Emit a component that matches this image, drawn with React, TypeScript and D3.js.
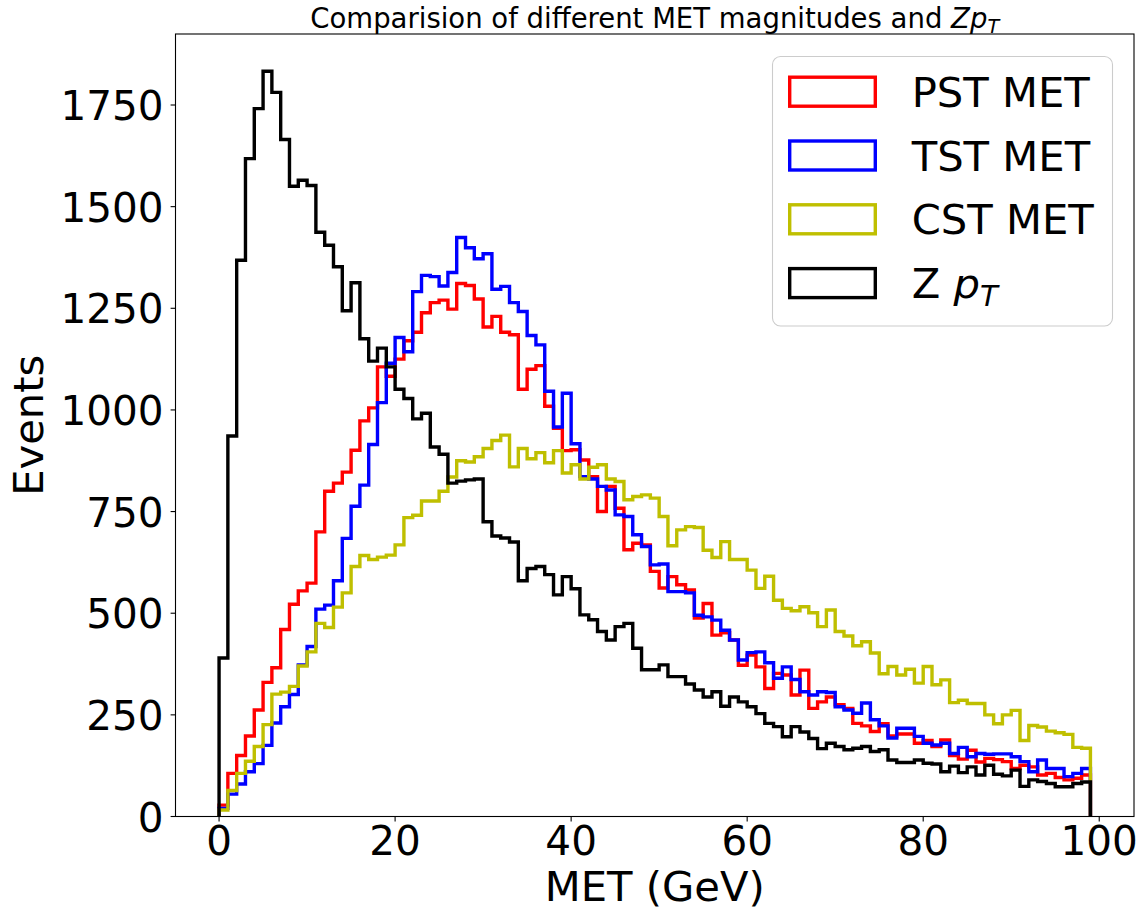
import React from 'react';
import * as d3 from 'd3';

// ---------------- data ----------------
const binStart = 0;
const binWidth = 1;

const pstMet = [
  28, 106, 150, 198, 262, 330, 366, 460, 522, 555,
  574, 700, 800, 820, 847, 901, 973, 1005, 1106, 1083,
  1125, 1170, 1191, 1239, 1264, 1270, 1248, 1311, 1306, 1273,
  1204, 1230, 1191, 1185, 1051, 1100, 1109, 1009, 955, 900,
  902, 877, 836, 750, 812, 758, 656, 672, 668, 603,
  562, 590, 570, 557, 488, 524, 446, 452, 434, 372,
  397, 368, 315, 352, 348, 299, 360, 266, 282, 294,
  275, 266, 229, 223, 209, 228, 198, 203, 203, 180,
  187, 172, 188, 150, 141, 163, 134, 143, 140, 135,
  118, 126, 122, 102, 106, 96, 90, 94, 102,
];

const tstMet = [
  20, 55, 80, 110, 130, 175, 230, 270, 300, 373,
  418, 510, 520, 580, 684, 763, 815, 915, 1018, 1115,
  1178, 1143, 1291, 1331, 1328, 1305, 1338, 1424, 1399, 1372,
  1384, 1297, 1304, 1264, 1242, 1183, 1160, 1046, 958, 1041,
  917, 836, 830, 812, 803, 742, 738, 693, 664, 619,
  621, 553, 553, 550, 495, 491, 483, 458, 434, 385,
  403, 405, 378, 340, 368, 337, 307, 299, 307, 305,
  270, 262, 254, 279, 238, 223, 193, 217, 217, 197,
  180, 176, 180, 155, 170, 147, 155, 153, 154, 154,
  147, 135, 110, 139, 118, 118, 98, 106, 118,
];

const cstMet = [
  16, 64, 106, 136, 172, 226, 301, 306, 320, 370,
  405, 475, 465, 515, 550, 615, 642, 632, 638, 643,
  668, 735, 741, 776, 776, 800, 835, 875, 872, 885,
  905, 925, 938, 860, 905, 880, 895, 870, 900, 845,
  865, 830, 859, 865, 830, 824, 779, 787, 791, 783,
  738, 666, 705, 713, 711, 655, 637, 676, 632, 632,
  606, 561, 591, 532, 512, 506, 516, 501, 467, 508,
  455, 444, 420, 430, 402, 351, 369, 348, 362, 328,
  369, 324, 336, 280, 286, 278, 278, 250, 228, 250,
  261, 187, 224, 220, 210, 206, 202, 170, 168,
];

const zPt = [
  390, 936, 1368, 1618, 1741, 1833, 1781, 1665, 1550, 1565,
  1552, 1437, 1405, 1352, 1244, 1313, 1175, 1120, 1152, 1106,
  1051, 1028, 978, 992, 909, 891, 820, 825, 828, 830,
  725, 690, 685, 675, 580, 610, 615, 595, 545, 590,
  560, 496, 484, 455, 434, 467, 475, 414, 361, 361,
  373, 344, 344, 326, 311, 294, 307, 271, 294, 282,
  270, 253, 229, 221, 196, 221, 208, 192, 167, 180,
  172, 164, 168, 172, 160, 164, 139, 133, 133, 139,
  131, 129, 110, 124, 108, 122, 102, 126, 104, 100,
  114, 74, 90, 86, 81, 73, 73, 81, 85,
];

const seriesNames = ['PST MET', 'TST MET', 'CST MET', 'Z'];
const seriesColors = ['#ff0000', '#0000ff', '#bfbf00', '#000000'];
const seriesValues = [pstMet, tstMet, cstMet, zPt];

const xTicks = [0, 20, 40, 60, 80, 100];
const yTicks = [0, 250, 500, 750, 1000, 1250, 1500, 1750];

// ---------------- layout ----------------
const W = 1145;
const H = 911;
const AX = { left: 175.5, right: 1134, top: 34, bottom: 816.5 };
const FONT = 'DejaVu Sans, sans-serif';
const TICK_FS = 40.5;
const LABEL_FS = 41.7;
const TITLE_FS = 27.5;
const LW = 3.4;

export default function App() {
  const nBins = pstMet.length;
  const xMin = binStart;
  const xMax = binStart + nBins * binWidth;
  const xPad = (xMax - xMin) * 0.05;
  const x = d3.scaleLinear().domain([xMin - xPad, xMax + xPad]).range([AX.left, AX.right]);
  const allMax = d3.max(seriesValues.map((s) => d3.max(s) as number)) as number;
  const y = d3.scaleLinear().domain([0, allMax * 1.05]).range([AX.bottom, AX.top]);

  const line = d3
    .line<[number, number]>()
    .x((d) => x(d[0]))
    .y((d) => y(d[1]));

  const stepPoints = (vals: number[]): [number, number][] => {
    const pts: [number, number][] = [[binStart, 0]];
    vals.forEach((v, i) => {
      const e0 = binStart + i * binWidth;
      pts.push([e0, v]);
      pts.push([e0 + binWidth, v]);
    });
    pts.push([binStart + vals.length * binWidth, 0]);
    return pts;
  };

  // legend geometry
  const lg = { x: 772.5, y: 56.5, w: 340, h: 269.5 };
  const rowBase0 = 106.7;
  const rowStep = 63.8;

  return (
    <svg
      width={W}
      height={H}
      style={{ position: 'absolute', left: 0, top: 0, display: 'block', background: '#fff' }}
      fontFamily={FONT}
    >
      <rect x={0} y={0} width={W} height={H} fill="#ffffff" />

      <defs>
        <clipPath id="axclip">
          <rect x={AX.left} y={AX.top} width={AX.right - AX.left} height={AX.bottom - AX.top} />
        </clipPath>
      </defs>

      {/* histograms */}
      <g clipPath="url(#axclip)">
        {seriesValues.map((vals, i) => (
          <path
            key={seriesNames[i]}
            d={line(stepPoints(vals)) || ''}
            fill="none"
            stroke={seriesColors[i]}
            strokeWidth={LW}
            strokeLinejoin="miter"
          />
        ))}
      </g>

      {/* spines */}
      <rect
        x={AX.left}
        y={AX.top}
        width={AX.right - AX.left}
        height={AX.bottom - AX.top}
        fill="none"
        stroke="#000"
        strokeWidth={1.1}
      />

      {/* x ticks */}
      {xTicks.map((t) => (
        <g key={'x' + t}>
          <line x1={x(t)} x2={x(t)} y1={AX.bottom} y2={AX.bottom + 4.9} stroke="#000" strokeWidth={1.1} />
          <text x={x(t)} y={854.5} textAnchor="middle" fontSize={TICK_FS} fill="#000">
            {t}
          </text>
        </g>
      ))}

      {/* y ticks */}
      {yTicks.map((t) => (
        <g key={'y' + t}>
          <line x1={AX.left - 4.9} x2={AX.left} y1={y(t)} y2={y(t)} stroke="#000" strokeWidth={1.1} />
          <text x={163.5} y={y(t) + 15} textAnchor="end" fontSize={TICK_FS} fill="#000">
            {t}
          </text>
        </g>
      ))}

      {/* axis labels */}
      <text x={(AX.left + AX.right) / 2} y={900.5} textAnchor="middle" fontSize={LABEL_FS} fill="#000">
        MET (GeV)
      </text>
      <text
        transform={`translate(43, ${(AX.top + AX.bottom) / 2}) rotate(-90)`}
        textAnchor="middle"
        fontSize={LABEL_FS}
        fill="#000"
      >
        Events
      </text>

      {/* title */}
      <text x={(AX.left + AX.right) / 2} y={28} textAnchor="middle" fontSize={TITLE_FS} fill="#000">
        Comparision of different MET magnitudes and{' '}
        <tspan fontStyle="italic">Zp</tspan>
        <tspan fontStyle="italic" fontSize={TITLE_FS * 0.7} dy={5}>
          T
        </tspan>
      </text>

      {/* legend */}
      <rect
        x={lg.x}
        y={lg.y}
        width={lg.w}
        height={lg.h}
        rx={8}
        ry={8}
        fill="#ffffff"
        fillOpacity={0.8}
        stroke="#cccccc"
        strokeWidth={1.1}
      />
      {seriesNames.map((name, i) => {
        const base = rowBase0 + i * rowStep;
        return (
          <g key={'lg' + name}>
            <rect
              x={789.7}
              y={base - 29.5}
              width={85.6}
              height={29}
              fill="none"
              stroke={seriesColors[i]}
              strokeWidth={LW}
            />
            {i < 3 ? (
              <text x={911.7} y={base} fontSize={LABEL_FS} fill="#000">
                {name}
              </text>
            ) : (
              <text x={911.7} y={base} fontSize={LABEL_FS} fill="#000">
                {name + ' '}
                <tspan fontStyle="italic">p</tspan>
                <tspan fontStyle="italic" fontSize={LABEL_FS * 0.7} dy={8}>
                  T
                </tspan>
              </text>
            )}
          </g>
        );
      })}
    </svg>
  );
}
